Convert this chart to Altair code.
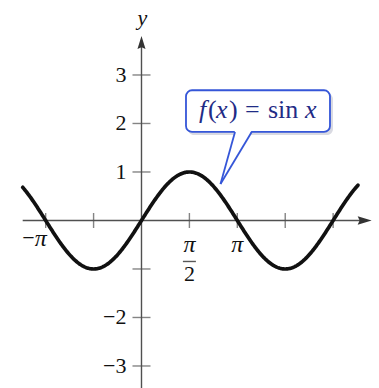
import altair as alt
import numpy as np
import pandas as pd

PI = np.pi

# Visible window of the coordinate plane
x_domain = [-4.639, 7.787]
y_domain = [-3.454, 4.546]

# Plotted function: f(x) = sin x over the drawn interval
curve_start, curve_end = -3.895, 7.098
curve_x = np.linspace(curve_start, curve_end, 500)
curve_y = np.sin(curve_x)

# Axis extents (x-axis ends in an arrow on the right, y-axis at the top)
x_axis_left, x_axis_right = -3.895, 7.547
y_axis_bottom, y_axis_top = -3.454, 3.804

# Tick positions
x_ticks = [-PI, -PI / 2, PI / 2, PI, 3 * PI / 2, 2 * PI]
y_ticks = [-3, -2, -1, 1, 2, 3]
y_tick_labels = ["−3", "−2", "1", "2", "3"]
y_label_values = [-3, -2, 1, 2, 3]

# Callout box and pointer (data coordinates)
box_left, box_right = 1.459, 6.180
box_top, box_bottom = 2.685, 1.825
pointer_base_left, pointer_base_right = 3.066, 3.613
pointer_tip_x, pointer_tip_y = 2.590, 0.753

SERIF = "Liberation Serif"
AXIS_COLOR = "#505050"
TEXT_COLOR = "#111111"
BOX_STROKE = "#3556d8"
BOX_TEXT = "#1f2c86"

xs = alt.Scale(domain=x_domain, nice=False, zero=False)
ys = alt.Scale(domain=y_domain, nice=False, zero=False)


def X(field="x"):
    return alt.X(f"{field}:Q", scale=xs, axis=None)


def Y(field="y"):
    return alt.Y(f"{field}:Q", scale=ys, axis=None)


def label(x, y, text, **kw):
    props = dict(font=SERIF, fontSize=22, color=TEXT_COLOR)
    props.update(kw)
    return alt.Chart(pd.DataFrame({"x": [x], "y": [y], "t": [text]})).mark_text(
        **props
    ).encode(x=X(), y=Y(), text="t:N")


# Axes
axes_df = pd.DataFrame({
    "x": [x_axis_left, 0.0],
    "y": [0.0, y_axis_bottom],
    "x2": [x_axis_right - 0.2, 0.0],
    "y2": [0.0, y_axis_top - 0.15],
})
axes = alt.Chart(axes_df).mark_rule(color=AXIS_COLOR, strokeWidth=1.4).encode(
    x=X(), y=Y(), x2="x2:Q", y2="y2:Q"
)

x_arrow = alt.Chart(pd.DataFrame({"x": [x_axis_right - 0.23], "y": [0.0]})).mark_point(
    shape="M1,0 L-1,-0.62 L-0.72,0 L-1,0.62 Z", size=196, filled=True,
    color="#333333", opacity=1
).encode(x=X(), y=Y())

y_arrow = alt.Chart(pd.DataFrame({"x": [0.0], "y": [y_axis_top - 0.134]})).mark_point(
    shape="M0,-1 L-0.62,1 L0,0.72 L0.62,1 Z", size=169, filled=True,
    color="#333333", opacity=1
).encode(x=X(), y=Y())

# Tick marks
x_tick_marks = alt.Chart(pd.DataFrame({"x": x_ticks, "y": [0.0] * len(x_ticks)})).mark_tick(
    orient="vertical", size=15, thickness=1.4, color=AXIS_COLOR
).encode(x=X(), y=Y())

y_tick_marks = alt.Chart(pd.DataFrame({"x": [0.0] * len(y_ticks), "y": y_ticks})).mark_tick(
    orient="horizontal", size=18, thickness=1.4, color=AXIS_COLOR
).encode(x=X(), y=Y())

# Tick labels
y_labels = alt.Chart(pd.DataFrame({"x": [0.0] * len(y_label_values), "y": y_label_values,
                                   "t": y_tick_labels})).mark_text(
    font=SERIF, fontSize=22, align="right", baseline="middle", dx=-15, color=TEXT_COLOR
).encode(x=X(), y=Y(), text="t:N")

neg_pi_minus = label(-PI, 0.0, "−", align="right", baseline="alphabetic", dx=-11, dy=25)
neg_pi_label = label(-PI, 0.0, "π", fontSize=24, fontStyle="italic", align="right",
                     baseline="alphabetic", dx=1, dy=26)
pi_label = label(PI, 0.0, "π", fontSize=24, fontStyle="italic", align="center",
                 baseline="alphabetic", dy=32)
half_pi_num = label(PI / 2, 0.0, "π", fontSize=24, fontStyle="italic", align="center",
                    baseline="alphabetic", dy=32)
half_pi_bar = alt.Chart(pd.DataFrame({"x": [PI / 2], "y": [0.0]})).mark_tick(
    orient="horizontal", size=13, thickness=1.4, yOffset=41, color=TEXT_COLOR
).encode(x=X(), y=Y())
half_pi_den = label(PI / 2, 0.0, "2", align="center", baseline="alphabetic", dy=61)
y_title = label(0.0, y_axis_top, "y", fontStyle="italic", align="center",
                baseline="alphabetic", dx=1, dy=-11)

# Sine curve
curve = alt.Chart(pd.DataFrame({"x": curve_x, "y": curve_y})).mark_line(
    color="#111111", strokeWidth=3.7, strokeCap="round", interpolate="linear"
).encode(x=X(), y=Y(), order="x:Q")

# Callout
box_df = pd.DataFrame({"x": [box_left], "x2": [box_right], "y": [box_top], "y2": [box_bottom]})
box_shadow = alt.Chart(box_df).mark_rect(
    cornerRadius=6, fill="#b9bccb", opacity=0.55,
    xOffset=2, x2Offset=3, yOffset=3, y2Offset=3
).encode(x=X(), x2="x2:Q", y=Y(), y2="y2:Q")
box = alt.Chart(box_df).mark_rect(
    cornerRadius=6, fill="white", stroke=BOX_STROKE, strokeWidth=1.8
).encode(x=X(), x2="x2:Q", y=Y(), y2="y2:Q")

pointer_fill = alt.Chart(pd.DataFrame({
    "y": [box_bottom + 0.03, pointer_tip_y],
    "x": [pointer_base_left, pointer_tip_x],
    "x2": [pointer_base_right, pointer_tip_x],
})).mark_area(orient="horizontal", fill="white", opacity=1).encode(
    y=Y(), x=X(), x2="x2:Q"
)

pointer_edges = alt.Chart(pd.DataFrame({
    "x": [pointer_base_left, pointer_base_right],
    "y": [box_bottom, box_bottom],
    "x2": [pointer_tip_x, pointer_tip_x],
    "y2": [pointer_tip_y, pointer_tip_y],
})).mark_rule(color=BOX_STROKE, strokeWidth=1.8).encode(
    x=X(), y=Y(), x2="x2:Q", y2="y2:Q"
)

# Formula text inside the callout, set piece by piece (italic variables, upright operators)
box_mid = (box_top + box_bottom) / 2
formula_pieces = [
    ("f", "italic", 13),
    ("(", "normal", 22),
    ("x", "italic", 30),
    (")", "normal", 43),
    ("=", "normal", 59),
    ("sin", "normal", 82),
    ("x", "italic", 119),
]
formula_layers = []
for text, style, offset in formula_pieces:
    formula_layers.append(
        alt.Chart(pd.DataFrame({"x": [box_left], "y": [box_mid], "t": [text]})).mark_text(
            font=SERIF, fontSize=26, fontStyle=style, align="left",
            baseline="alphabetic", dx=offset, dy=7, color=BOX_TEXT
        ).encode(x=X(), y=Y(), text="t:N")
    )

chart = alt.layer(
    axes, x_arrow, y_arrow, x_tick_marks, y_tick_marks,
    y_labels, neg_pi_minus, neg_pi_label, pi_label, half_pi_num, half_pi_bar,
    half_pi_den, y_title,
    curve,
    box_shadow, box, pointer_fill, pointer_edges,
    *formula_layers,
).properties(
    width=379, height=388,
    autosize=alt.AutoSizeParams(type="none"),
    padding=0,
    background="white",
).configure_view(stroke=None)

chart.save("out.html", embed_options={"renderer": "svg", "actions": False})
